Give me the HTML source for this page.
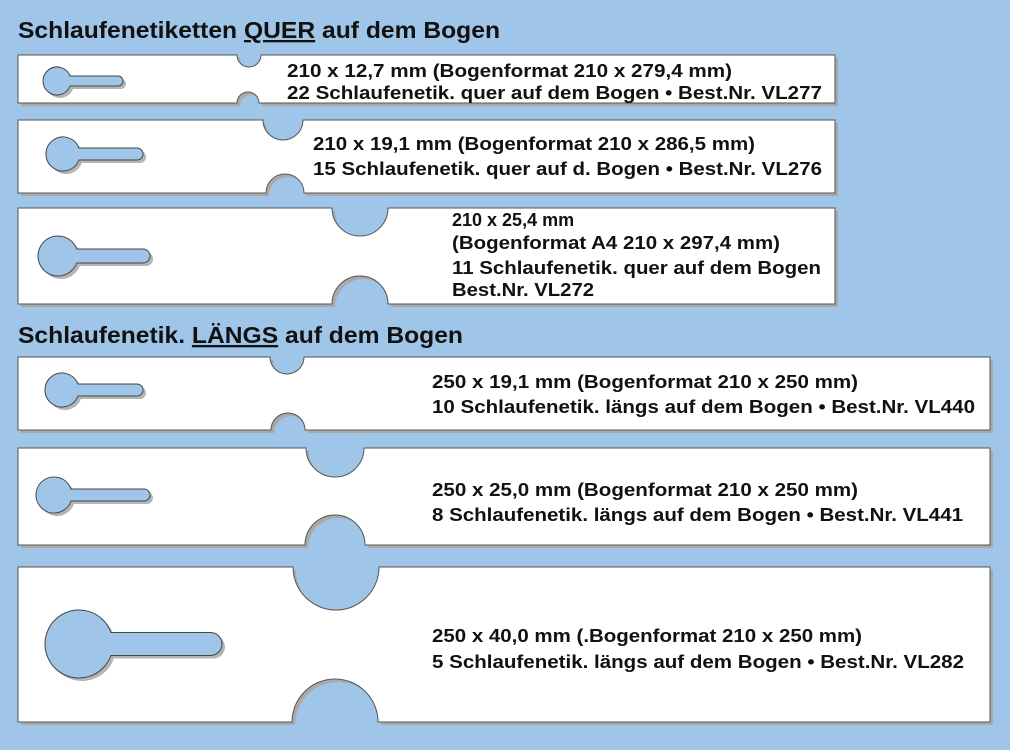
<!DOCTYPE html>
<html><head><meta charset="utf-8"><style>
html,body{margin:0;padding:0;background:#9fc5e8;}
svg{display:block}
text{font-family:"Liberation Sans",Arial,sans-serif;font-weight:bold;fill:#111;}
</style></head><body>
<svg id="s" width="1010" height="750" xmlns="http://www.w3.org/2000/svg">
<rect width="1010" height="750" fill="#9fc5e8"/>
<g id="shapes"></g>
<text x="18" y="38" font-size="23" textLength="482" lengthAdjust="spacingAndGlyphs">Schlaufenetiketten <tspan text-decoration="underline">QUER</tspan> auf dem Bogen</text>
<text x="18" y="343" font-size="23" textLength="445" lengthAdjust="spacingAndGlyphs">Schlaufenetik. <tspan text-decoration="underline">LÄNGS</tspan> auf dem Bogen</text>

<g font-size="18">
<text x="287" y="77" textLength="445" lengthAdjust="spacingAndGlyphs">210 x 12,7 mm (Bogenformat 210 x 279,4 mm)</text>
<text x="287" y="99" textLength="535" lengthAdjust="spacingAndGlyphs">22 Schlaufenetik. quer auf dem Bogen • Best.Nr. VL277</text>
<text x="313" y="150" textLength="442" lengthAdjust="spacingAndGlyphs">210 x 19,1 mm (Bogenformat 210 x 286,5 mm)</text>
<text x="313" y="175" textLength="509" lengthAdjust="spacingAndGlyphs">15 Schlaufenetik. quer auf d. Bogen • Best.Nr. VL276</text>
<text x="452" y="226">210 x 25,4 mm</text>
<text x="452" y="249" textLength="328" lengthAdjust="spacingAndGlyphs">(Bogenformat A4 210 x 297,4 mm)</text>
<text x="452" y="274" textLength="369" lengthAdjust="spacingAndGlyphs">11 Schlaufenetik. quer auf dem Bogen</text>
<text x="452" y="296" textLength="142" lengthAdjust="spacingAndGlyphs">Best.Nr. VL272</text>
<text x="432" y="388" textLength="426" lengthAdjust="spacingAndGlyphs">250 x 19,1 mm (Bogenformat 210 x 250 mm)</text>
<text x="432" y="413" textLength="543" lengthAdjust="spacingAndGlyphs">10 Schlaufenetik. längs auf dem Bogen • Best.Nr. VL440</text>
<text x="432" y="496" textLength="426" lengthAdjust="spacingAndGlyphs">250 x 25,0 mm (Bogenformat 210 x 250 mm)</text>
<text x="432" y="521" textLength="531" lengthAdjust="spacingAndGlyphs">8 Schlaufenetik. längs auf dem Bogen • Best.Nr. VL441</text>
<text x="432" y="642" textLength="430" lengthAdjust="spacingAndGlyphs">250 x 40,0 mm (.Bogenformat 210 x 250 mm)</text>
<text x="432" y="668" textLength="532" lengthAdjust="spacingAndGlyphs">5 Schlaufenetik. längs auf dem Bogen • Best.Nr. VL282</text>
</g>
</svg>
<script>
var strips=[
 [18,55,835,103,249,12,248,11],
 [18,120,835,193,283,20,285,19],
 [18,208,835,304,360,28,360,28],
 [18,357,990,430,287,17,288,17],
 [18,448,990,545,335,29,335,30],
 [18,567,990,722,336,43,335,43]];
var keys=[[57,81,14,123,10],[63,154,17,143,12],[58,256,20,150,14],[62,390,17,143,12],[54,495,18,150,12],[79,644,34,222,23]];
var g=document.getElementById('shapes'),h='';
function sp(s){var x1=s[0],y1=s[1],x2=s[2],y2=s[3],c1=s[4],r1=s[5],c2=s[6],r2=s[7];
return 'M'+x1+','+y1+'H'+(c1-r1)+'A'+r1+','+r1+' 0 0 0 '+(c1+r1)+','+y1+'H'+x2+'V'+y2+'H'+(c2+r2)+'A'+r2+','+r2+' 0 0 0 '+(c2-r2)+','+y2+'H'+x1+'Z';}
function kp(k){var cx=k[0],cy=k[1],r=k[2],bx=k[3],hh=k[4]/2,dx=Math.sqrt(r*r-hh*hh);
return 'M'+(cx+dx)+','+(cy-hh)+'H'+(bx-hh)+'A'+hh+','+hh+' 0 0 1 '+(bx-hh)+','+(cy+hh)+'H'+(cx+dx)+'A'+r+','+r+' 0 1 1 '+(cx+dx)+','+(cy-hh)+'Z';}
strips.forEach(function(s){h+='<path d="'+sp(s)+'" fill="#a9a9a9" transform="translate(3,3)"/>';});
strips.forEach(function(s){h+='<path d="'+sp(s)+'" fill="#fff" stroke="#555" stroke-width="1"/>';});
keys.forEach(function(k){h+='<path d="'+kp(k)+'" fill="#b5b5b5" transform="translate(3,3)"/><path d="'+kp(k)+'" fill="#9fc5e8" stroke="#444" stroke-width="1"/>';});
g.innerHTML=h;
</script>
</body></html>
